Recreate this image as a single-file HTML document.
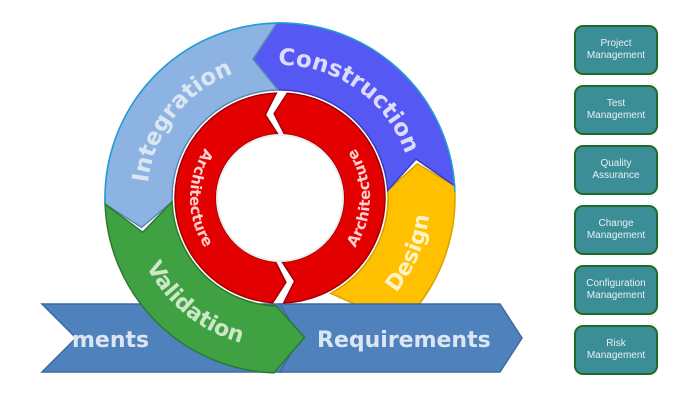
<!DOCTYPE html>
<html><head><meta charset="utf-8"><style>
body{margin:0;width:693px;height:408px;background:#fff;overflow:hidden;font-family:"Liberation Sans",sans-serif}
.box{position:absolute;left:574px;width:80px;height:46px;background:#3b8e96;border:2px solid #1e6b2c;border-radius:9px;color:#e8f0f4;font-size:10px;line-height:12px;display:flex;align-items:center;justify-content:center;text-align:center;box-sizing:content-box}
</style></head><body>
<svg id="d" width="693" height="408" style="position:absolute;left:0;top:0"></svg>
<div class="box" style="top:25px">Project<br>Management</div>
<div class="box" style="top:85px">Test<br>Management</div>
<div class="box" style="top:145px">Quality<br>Assurance</div>
<div class="box" style="top:205px">Change<br>Management</div>
<div class="box" style="top:265px">Configuration<br>Management</div>
<div class="box" style="top:325px">Risk<br>Management</div>
<script>
const NS="http://www.w3.org/2000/svg";
const svg=document.getElementById('d');
const cx=280,cy=198;
const FONT='"DejaVu Sans","Liberation Sans",sans-serif';
function P(a,r){const t=a*Math.PI/180;return [cx+r*Math.cos(t),cy+r*Math.sin(t)];}
function el(tag,attrs,parent){const e=document.createElementNS(NS,tag);for(const k in attrs)e.setAttribute(k,attrs[k]);(parent||svg).appendChild(e);return e;}
function seg(a0,a1,r0,r1,color,stroke,name,head){
  const rm=(r0+r1)/2;
  const o0=P(a0,r1),o1=P(a1,r1),i1=P(a1,r0),i0=P(a0,r0),hm=P(a1-head,rm),tm=P(a0-head,rm);
  const large=Math.abs(a0-a1)>180?1:0;
  const d=`M${o0} A${r1},${r1} 0 ${large} 0 ${o1} L${hm} L${i1} A${r0},${r0} 0 ${large} 1 ${i0} L${tm} Z`;
  const p=el('path',{d:d,fill:color,stroke:stroke,'stroke-width':1.5});
  
  
}
let pid=0;
function arcText(txt,a0,a1,r,size,color,name){
  const id='tp'+(pid++);const s=P(a0,r),e=P(a1,r);
  const sweep=a1>a0?1:0;const large=Math.abs(a1-a0)>180?1:0;
  el('path',{id:id,d:`M${s} A${r},${r} 0 ${large} ${sweep} ${e}`,fill:'none'});
  const t=el('text',{'font-size':size,'font-weight':'bold',fill:color,'font-family':FONT});
  
  
  const tp=el('textPath',{href:'#'+id,startOffset:'50%','text-anchor':'middle'},t);tp.textContent=txt;
}
// outer ring segments
seg(62,-4,108,175,'#ffc000','#d9a000','design-segment',10);
seg(-4,-91,108,175,'#5558f2','#3a3cc0','construction-segment',12);
seg(269,178,108,175,'#8db3e2','#5a86b8','integration-segment',10);
el('path',{d:`M${P(178,175)} A175,175 0 0 1 ${P(358,175)}`,fill:'none',stroke:'#1ea0d8','stroke-width':1.5});
// requirements bar
function poly(pts,fill,name){const p=el('polygon',{points:pts,fill:fill,stroke:'#3d6aa0','stroke-width':1.5});}
poly('42,304 282,304 302,338 282,372 42,372 76,338','#4f81bd','requirements-bar-left');
poly('280,304 500,304 522,338 500,372 280,372 300,338','#4f81bd','requirements-bar-right');
seg(178,92,108,175,'#3fa142','#2a7a2e','validation-segment',12);
// red inner ring
seg(268,94,64,105,'#e20000','#a00000','architecture-left-segment',8);
seg(88,-86,64,105,'#e20000','#a00000','architecture-right-segment',8);
el('circle',{cx:cx,cy:cy,r:63,fill:'#fff',stroke:'#eee','stroke-width':2});
// labels
arcText('Integration',172,264,133,23,'#dbe6f4','integration-label');
arcText('Construction',-98,-12,133,23,'#dcdcff','construction-label');
arcText('Design',50,-4,150,22,'#fff2c8','design-label');
arcText('Validation',172,86,150,22,'#cde8c8','validation-label');
arcText('Architecture',240,120,90,15,'#ffd0d0','architecture-left-label');
arcText('Architecture',60,-60,90,15,'#ffd0d0','architecture-right-label');
function txt(x,y,s,name){const t=el('text',{x:x,y:y,'font-size':22,'font-weight':'bold',fill:'#dce6f2','font-family':FONT});t.textContent=s;}
txt(72,347,'ments','requirements-left-label');
txt(317,347,'Requirements','requirements-right-label');
</script>
</body></html>
